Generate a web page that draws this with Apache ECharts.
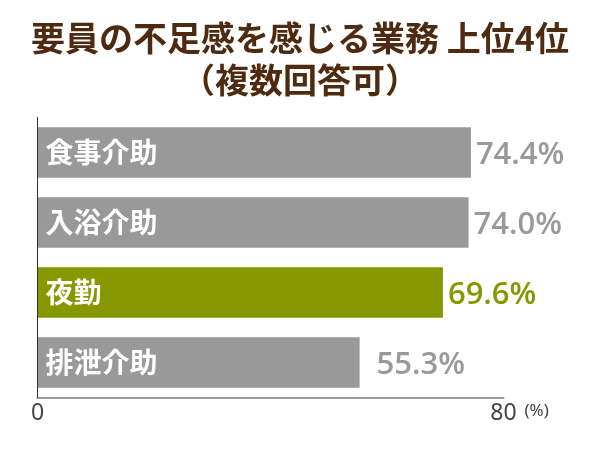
<!DOCTYPE html>
<html>
<head>
<meta charset="utf-8">
<script src="https://cdn.jsdelivr.net/npm/echarts@6/dist/echarts.min.js"></script>
<style>html,body{margin:0;padding:0;background:#fff}#c{width:600px;height:450px}</style>
</head>
<body>
<div id="c"></div>
<script>
const titleLines = ['要員の不足感を感じる業務 上位4位', '（複数回答可）'];
const categories = ['食事介助', '入浴介助', '夜勤', '排泄介助'];
const values = [74.4, 74.0, 69.6, 55.3];
const highlightCategory = '夜勤';
const axisMin = 0;
const axisMax = 80;
const unitLabel = '(%)';

const GRAY = '#999999';
const GREEN = '#869800';
const labelGap = [5, 5, 5, 17];

const chart = echarts.init(document.getElementById('c'), null, {renderer: 'canvas'});
chart.setOption({
  backgroundColor: '#ffffff',
  animation: false,
  title: {
    text: titleLines.join('\n'),
    left: 'center',
    top: 12,
    textStyle: {
      fontFamily: 'Noto Sans CJK JP',
      fontWeight: 'bold',
      fontSize: 34,
      lineHeight: 42,
      color: '#4e2a10'
    }
  },
  grid: {left: 37.5, right: 96.5, top: 117.5, bottom: 52.5, containLabel: false},
  xAxis: {
    type: 'value',
    min: axisMin,
    max: axisMax,
    interval: axisMax - axisMin,
    splitLine: {show: false},
    axisTick: {show: false},
    axisLine: {show: true, lineStyle: {color: '#9a9a9a', width: 2}},
    axisLabel: {
      margin: 4,
      fontFamily: 'Noto Sans',
      fontSize: 23,
      color: '#444444'
    },
    name: unitLabel,
    nameLocation: 'end',
    nameGap: 21,
    nameTextStyle: {
      fontFamily: 'Noto Sans',
      fontSize: 17,
      color: '#444444',
      verticalAlign: 'top',
      padding: [5, 0, 0, 0]
    }
  },
  yAxis: {
    type: 'category',
    data: categories,
    inverse: true,
    z: 10,
    axisTick: {show: false},
    axisLine: {show: true, lineStyle: {color: '#333333', width: 1}},
    axisLabel: {
      inside: true,
      margin: 8,
      fontFamily: 'Noto Sans CJK JP',
      fontWeight: 'bold',
      fontSize: 28,
      color: '#ffffff'
    }
  },
  series: [{
    type: 'bar',
    barCategoryGap: '28%',
    data: values.map((v, i) => {
      const c = categories[i] === highlightCategory ? GREEN : GRAY;
      return {
        value: v,
        itemStyle: {color: c},
        label: {color: c, distance: labelGap[i]}
      };
    }),
    label: {
      show: true,
      position: 'right',
      offset: [0, 3],
      fontFamily: 'Open Sans',
      fontWeight: 600,
      fontSize: 31,
      formatter: p => p.value.toFixed(1) + '%'
    }
  }]
});
</script>
</body>
</html>
